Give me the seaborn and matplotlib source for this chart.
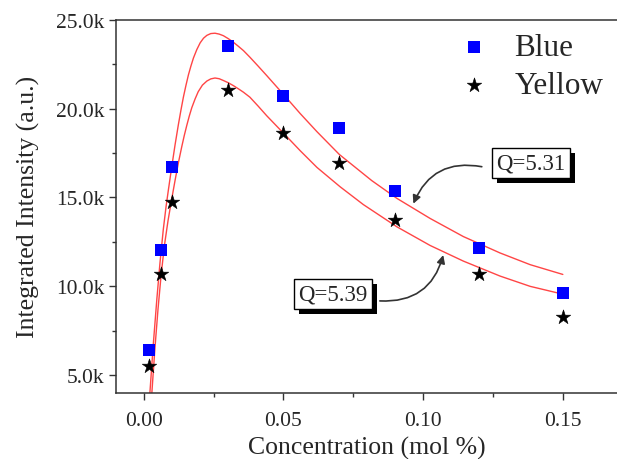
import matplotlib
matplotlib.use("Agg")
import matplotlib.pyplot as plt
import matplotlib.patheffects as pe
from matplotlib.ticker import MultipleLocator, FixedLocator
import seaborn as sns
import pandas as pd

# ---------------- data ----------------
conc = [0.002, 0.006, 0.01, 0.03, 0.05, 0.07, 0.09, 0.12, 0.15]
blue = [6400, 12050, 16700, 23520, 20720, 18920, 15380, 12130, 9650]
yellow = [5520, 10670, 14740, 21070, 18630, 16920, 13750, 10720, 8300]

# fitted curves
fit_blue_x = [0.0022, 0.0034, 0.0047, 0.0058, 0.0070, 0.0080, 0.0088, 0.0100, 0.0112,
              0.0124, 0.0133, 0.0142, 0.0151, 0.0160, 0.0169, 0.0178, 0.0190, 0.0202,
              0.0214, 0.0226, 0.0240, 0.0255, 0.0270, 0.0285, 0.0303, 0.0321, 0.0339,
              0.0357, 0.0380, 0.0410, 0.0440, 0.0470, 0.0500, 0.0560, 0.0620, 0.0700,
              0.0816, 0.0906, 0.1025, 0.1144, 0.1275, 0.1383, 0.1500]
fit_blue_y = [4000, 6700, 9300, 11300, 13200, 14500, 15400, 16700, 17950,
              19100, 19900, 20650, 21300, 21900, 22400, 22850, 23320, 23700,
              23960, 24120, 24220, 24240, 24190, 24100, 23930, 23730, 23500,
              23260, 22890, 22380, 21860, 21330, 20800, 19720, 18700, 17420,
              15950, 14950, 13820, 12800, 11880, 11220, 10670]
fit_yellow_x = [0.0029, 0.0040, 0.0051, 0.0062, 0.0074, 0.0087, 0.0100, 0.0112, 0.0124,
                0.0136, 0.0145, 0.0154, 0.0163, 0.0172, 0.0184, 0.0195, 0.0210, 0.0226,
                0.0240, 0.0255, 0.0270, 0.0285, 0.0303, 0.0321, 0.0339, 0.0357, 0.0380,
                0.0410, 0.0440, 0.0470, 0.0500, 0.0560, 0.0620, 0.0703, 0.0786, 0.0906,
                0.1025, 0.1144, 0.1275, 0.1383, 0.1500]
fit_yellow_y = [4000, 6500, 8700, 10600, 12300, 13700, 14900, 15950, 16950,
                17850, 18480, 19050, 19580, 20050, 20550, 20950, 21320, 21550,
                21670, 21720, 21680, 21580, 21450, 21290, 21110, 20920, 20640,
                20130, 19600, 19110, 18620, 17630, 16690, 15600, 14600, 13350,
                12300, 11420, 10580, 10000, 9560]

x_ticks = [0.00, 0.05, 0.10, 0.15]
x_tick_labels = ["0.00", "0.05", "0.10", "0.15"]
y_ticks = [5000, 10000, 15000, 20000, 25000]
y_tick_labels = ["5.0k", "10.0k", "15.0k", "20.0k", "25.0k"]

# annotation anchors
q1_text, q1_pos, q1_start, q1_tip = "Q=5.31", (0.1386, 16950), (0.1210, 16730), (0.0965, 14650)
q2_text, q2_pos, q2_start, q2_tip = "Q=5.39", (0.0677, 9580), (0.0845, 9180), (0.1072, 11760)

# ---------------- style ----------------
sns.set_style("ticks")
plt.rcParams["font.family"] = ["Liberation Serif", "DejaVu Serif"]

fig = plt.figure(figsize=(6.17, 4.60), dpi=100)
ax = fig.add_axes([115.8 / 617, 66 / 460, (618.7 - 115.8) / 617, 373.3 / 460])

df_b = pd.DataFrame({"x": fit_blue_x, "y": fit_blue_y})
df_y = pd.DataFrame({"x": fit_yellow_x, "y": fit_yellow_y})
sns.lineplot(data=df_b, x="x", y="y", sort=False, color="#ff4545", lw=1.0, ax=ax, zorder=2)
sns.lineplot(data=df_y, x="x", y="y", sort=False, color="#ff4545", lw=1.0, ax=ax, zorder=2)

sns.scatterplot(x=conc, y=blue, marker="s", color="#0000ff", s=64, linewidth=0,
                label="Blue", ax=ax, zorder=3)
sns.scatterplot(x=conc, y=yellow, marker="*", color="black", s=120, linewidth=0.4,
                edgecolor="black", label="Yellow", ax=ax, zorder=3)

ax.set_xlim(-0.01, 0.17)
ax.set_ylim(4000, 25000)
ax.xaxis.set_major_locator(FixedLocator(x_ticks))
ax.set_xticklabels(x_tick_labels)
ax.yaxis.set_major_locator(FixedLocator(y_ticks))
ax.set_yticklabels(y_tick_labels)
ax.xaxis.set_minor_locator(MultipleLocator(0.025))
ax.yaxis.set_minor_locator(MultipleLocator(2500))

for s in ["left", "bottom", "top", "right"]:
    ax.spines[s].set_color("#333333")
    ax.spines[s].set_linewidth(1.1)
ax.spines["right"].set_visible(False)
ax.tick_params(axis="both", which="major", direction="out", length=5, width=1.0,
               color="#333333", labelsize=15.5)
ax.tick_params(axis="x", which="major", pad=8)
ax.tick_params(axis="y", which="major", pad=3)
ax.tick_params(axis="both", which="minor", direction="out", length=3, width=1.0,
               color="#333333")
ax.tick_params(top=False, right=False, which="both")

ax.set_xlabel("Concentration (mol %)", fontsize=18.5, labelpad=4)
ax.set_ylabel("Integrated Intensity (a.u.)", fontsize=18.5, labelpad=12)

leg = ax.legend(loc="upper left", bbox_to_anchor=(458 / 617, (460 - 34) / 460),
                bbox_transform=fig.transFigure, frameon=False, fontsize=22.5,
                handlelength=1.0, handletextpad=0.8, labelspacing=0.3,
                borderpad=0, borderaxespad=0, scatterpoints=1)

shadow = [pe.SimplePatchShadow(offset=(3.8, -3.8), shadow_rgbFace="black", alpha=1.0),
          pe.Normal()]
for txt, pos, start, tip in [(q1_text, q1_pos, q1_start, q1_tip),
                             (q2_text, q2_pos, q2_start, q2_tip)]:
    t = ax.text(pos[0], pos[1], txt, fontsize=16.5, ha="center", va="center", zorder=5,
                bbox=dict(boxstyle="square,pad=0.2", fc="white", ec="black", lw=1.0))
    t.get_bbox_patch().set_path_effects(shadow)
    ax.annotate("", xy=tip, xytext=start, zorder=4,
                arrowprops=dict(arrowstyle="-|>", connectionstyle="arc3,rad=0.4",
                                color="#333333", lw=1.2, mutation_scale=12,
                                shrinkA=0, shrinkB=0))

fig.savefig("out.png", dpi=100)
